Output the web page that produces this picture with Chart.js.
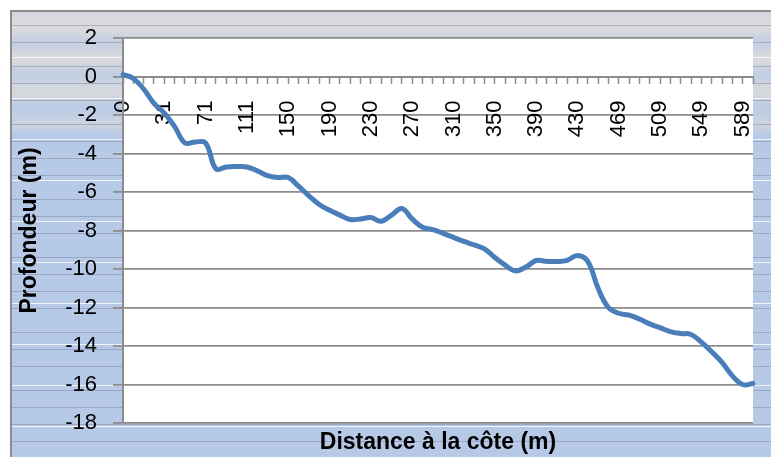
<!DOCTYPE html>
<html>
<head>
<meta charset="utf-8">
<script src="https://cdn.jsdelivr.net/npm/chart.js@4.4.1/dist/chart.umd.min.js"></script>
<style>
  html, body { margin: 0; padding: 0; background: #fff; }
  #wrap { width: 771px; height: 457px; }
</style>
</head>
<body>
<div id="wrap"><canvas id="profileChart"></canvas></div>
<script>
  // Distance à la côte (m) – one category per sounding
  const distances = [
    0, 8, 16, 23, 31, 41, 51, 61, 71, 81, 91, 101, 111, 121, 131, 140,
    150, 160, 170, 180, 190, 200, 210, 220, 230, 240, 250, 260, 270, 280, 290, 300,
    310, 320, 330, 340, 350, 360, 370, 380, 390, 400, 410, 420, 430, 440, 450, 459,
    469, 479, 489, 499, 509, 519, 529, 539, 549, 559, 569, 579, 589, 599
  ];

  // Profondeur (m)
  const depths = [
    0.1, -0.1, -0.65, -1.4, -1.9, -2.6, -3.45, -3.4, -3.45, -4.8, -4.7, -4.68, -4.7, -4.9, -5.15, -5.25,
    -5.25, -5.7, -6.2, -6.65, -6.95, -7.2, -7.43, -7.4, -7.33, -7.52, -7.2, -6.86, -7.4, -7.83, -7.95, -8.15,
    -8.36, -8.57, -8.75, -8.95, -9.4, -9.8, -10.1, -9.9, -9.56, -9.6, -9.61, -9.55, -9.3, -9.6, -11.0, -12.0,
    -12.3, -12.4, -12.6, -12.85, -13.05, -13.25, -13.35, -13.4, -13.8, -14.3, -14.85, -15.55, -16.0, -15.95
  ];

  const depthMin = -18;
  const depthMax = 2;
  const depthStep = 2;
  const labelEvery = 4;

  const gridGray = "#8c8c8c";

  // textured frame behind the plot, white plot area
  const backdrop = {
    id: "backdrop",
    beforeDraw(chart) {
      const { ctx, chartArea: a, width, height } = chart;
      ctx.save();
      ctx.fillStyle = "#fff";
      ctx.fillRect(0, 0, width, height);
      for (let y = 11; y < height; y++) {
        let w = (y - 30) / 120 + 0.3 * Math.sin(y * 0.19) + 0.15 * Math.sin(y * 0.047);
        w = Math.min(1, Math.max(0, w));
        const r = Math.round(216 - 34 * w);
        const g = Math.round(217 - 16 * w);
        const b = Math.round(220 + 11 * w);
        ctx.fillStyle = `rgb(${r},${g},${b})`;
        ctx.fillRect(11, y, width - 11, 1);
      }
      // faint stripes of the texture
      for (let y = 23; y < height; y += 19) {
        ctx.fillStyle = "rgba(90,90,110,0.3)";
        ctx.fillRect(11, y + (y % 7), width - 11, 1);
      }
      for (let y = 57; y < height; y += 41) {
        ctx.fillStyle = "rgba(255,255,255,0.8)";
        ctx.fillRect(11, y, width - 11, 1);
      }
      ctx.fillStyle = "#fff";
      ctx.fillRect(a.left, a.top, a.right - a.left, a.bottom - a.top);
      ctx.fillStyle = gridGray;
      ctx.fillRect(10, 10, width - 10, 2);
      ctx.fillRect(10, 10, 2, height - 10);
      ctx.restore();
    }
  };

  const ctx = document.getElementById("profileChart").getContext("2d");
  const profileChart = new Chart(ctx, {
    type: "line",
    data: {
      labels: distances,
      datasets: [{
        data: depths,
        borderColor: "#4a7ebb",
        borderWidth: 5,
        tension: 0.4,
        pointRadius: 0,
        borderCapStyle: "round",
        borderJoinStyle: "round",
        fill: false,
      }],
    },
    options: {
      responsive: true,
      maintainAspectRatio: false,
      animation: false,
      devicePixelRatio: 1,
      layout: { padding: { left: 0, top: 38, right: 18, bottom: 0 } },
      plugins: {
        legend: { display: false },
        tooltip: { enabled: false },
        title: {
          display: true,
          position: "bottom",
          fullSize: false,
          text: "Distance à la côte (m)",
          color: "#000",
          font: { family: "Liberation Sans", size: 23, weight: "bold" },
          padding: { top: 6, bottom: 0.4 },
        },
      },
      scales: {
        x: {
          type: "category",
          position: { y: 0 },
          offset: false,
          afterFit: function (scale) {
            // the axis sits inside the plot, it should not push the plot edges
            scale.paddingLeft = 0;
            scale.paddingRight = 0;
          },
          grid: {
            drawOnChartArea: false,
            drawTicks: true,
            tickLength: 6,
            tickColor: gridGray,
            tickWidth: 1.5,
          },
          border: { display: true, color: gridGray, width: 2 },
          ticks: {
            autoSkip: false,
            minRotation: 90,
            maxRotation: 90,
            padding: 18,
            color: "#000",
            font: { family: "Liberation Sans", size: 22 },
            callback: function (val, i) {
              return i % labelEvery === 0 ? distances[i] : "";
            },
          },
        },
        y: {
          min: depthMin,
          max: depthMax,
          afterFit: function (scale) {
            scale.width = 123;
          },
          grid: {
            color: gridGray,
            lineWidth: 1.8,
            tickLength: 10,
          },
          border: { display: true, color: gridGray, width: 2 },
          ticks: {
            stepSize: depthStep,
            padding: 16,
            color: "#000",
            font: { family: "Liberation Sans", size: 22 },
          },
          title: {
            display: true,
            text: "Profondeur (m)",
            color: "#000",
            font: { family: "Liberation Sans", size: 23, weight: "bold" },
            padding: { top: 16, bottom: 0 },
          },
        },
      },
    },
    plugins: [backdrop],
  });
</script>
</body>
</html>
